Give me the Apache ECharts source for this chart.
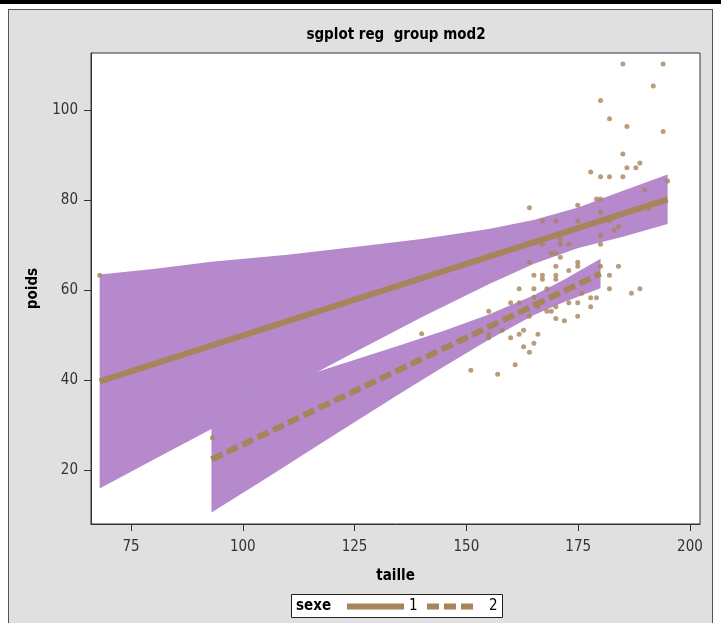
<!DOCTYPE html>
<html><head><meta charset="utf-8">
<script src="https://cdn.jsdelivr.net/npm/echarts@6/dist/echarts.min.js"></script>
<style>
html,body{margin:0;padding:0;background:#fff;width:721px;height:623px;overflow:hidden;}
#bar{position:absolute;left:0;top:0;width:721px;height:4px;background:#000;}
#panel{position:absolute;left:8px;top:9px;width:705px;height:620px;background:#e0e0e0;border:1px solid #555;box-sizing:border-box;}
#chart{position:absolute;left:0;top:0;width:721px;height:623px;}
</style></head><body>
<div id="bar"></div><div id="panel"></div><div id="chart"></div>
<script>
const chartTitle = 'sgplot reg  group mod2';
const xName = 'taille', yName = 'poids', legendTitle = 'sexe';
const groupNames = ['1', '2'];
const xTicks = [75, 100, 125, 150, 175, 200];
const yTicks = [20, 40, 60, 80, 100];

// regression fit lines
const fit1X = [68, 195], fit1Y = [39.7, 80.2];
const fit2X = [93, 180], fit2Y = [22.35, 63.7];

// confidence bands
const band1X     = [68,   80,   93,   110,  125,  140,  155,  165,  175,  185,  195];
const band1Upper = [63.5, 64.7, 66.3, 67.9, 69.6, 71.4, 73.6, 75.6, 78.4, 82.1, 85.7];
const band1Lower = [15.9, 22.3, 29.1, 38.3, 46.2, 54.0, 61.3, 65.8, 69.4, 71.9, 74.7];
const band2X     = [93,    105,  120,  135,  145,  155,  165,  172,  180];
const band2Upper = [34.15, 38.1, 42.9, 47.7, 51.0, 54.6, 58.8, 62.4, 67.0];
const band2Lower = [10.55, 18.0, 27.5, 36.9, 43.0, 49.0, 54.4, 57.4, 60.4];

// observations
const obsX = [185,194,191.8,180,182,185.9,194,185,185.9,187.9,188.8,177.8,180,182,185,195,189.9,179.1,180,164.1,174.9,180,167,170,174.9,182,190.8,184,183,171,171,172.9,167,180,180,
  169,170,171,164.1,174.9,174.9,170,180,184,172.9,165.1,167,167,170,170,182,161.8,165.1,168,182,186.9,188.8,175.8,177.8,179.1,172.9,174.9,177.8,159.9,161.8,165.1,166,170,155,168,169,164.1,174.9,170,171.9,158,162.8,161.8,155,155,159.9,166,165.1,162.8,164.1,160.9,151,157,
  68,93.2,140];
const obsY = [110.3,110.3,105.4,102.2,98.1,96.4,95.3,90.3,87.2,87.2,88.3,86.3,85.2,85.2,85.2,84.3,82.3,80.3,80.3,78.3,78.9,77.3,75.4,75.4,75.4,75.4,78.1,74.1,73.3,71.3,70.2,70.2,70.2,72.2,70.2,
  68.2,68.2,67.3,66.2,66.2,65.3,65.3,65.3,65.3,64.4,63.3,63.3,62.4,63.3,62.4,63.3,60.3,60.3,60.3,60.3,59.3,60.3,59.3,58.3,58.3,57.2,57.2,56.3,57.2,57.2,58.4,56.3,56.3,55.3,55.3,55.3,54.2,54.2,53.7,53.2,51.1,51.1,50.2,50.2,49.4,49.4,50.2,48.2,47.4,46.2,43.4,42.2,41.3,
  63.3,27.2,50.3];

const brown = '#A8845A';
const bandColor = '#B589CB';
const FONT = "'Liberation Sans Narrow','DejaVu Sans Condensed','Liberation Sans',sans-serif";

function bandSeries(xs, up, lo) {
  return {
    type: 'custom', silent: true, z: 1, clip: true,
    data: [[xs[0], up[0]]],
    encode: {x: 0, y: 1},
    renderItem: function (params, api) {
      const pts = [];
      for (let i = 0; i < xs.length; i++) pts.push(api.coord([xs[i], up[i]]));
      for (let i = xs.length - 1; i >= 0; i--) pts.push(api.coord([xs[i], lo[i]]));
      return {type: 'polygon', shape: {points: pts}, style: {fill: bandColor, stroke: null}};
    }
  };
}

const legendCommon = {
  top: 599, itemHeight: 14, itemGap: 0, padding: 0, selectedMode: false,
  lineStyle: {width: 6}, itemStyle: {opacity: 0, borderWidth: 0}
};

const chart = echarts.init(document.getElementById('chart'), null, {renderer: 'canvas'});
chart.setOption({
  backgroundColor: 'transparent',
  animation: false,
  title: {
    text: chartTitle, left: 396, top: 28, textAlign: 'center', padding: 0,
    textStyle: {fontFamily: FONT, fontWeight: 'bold', fontSize: 15, color: '#000'}
  },
  grid: {left: 91, top: 53, width: 609, height: 471, show: true, backgroundColor: '#fff', borderColor: '#333', borderWidth: 1},
  xAxis: {
    type: 'value', min: 66.06, max: 202.24,
    name: xName, nameLocation: 'middle', nameGap: 45,
    nameTextStyle: {fontFamily: FONT, fontWeight: 'bold', fontSize: 15, color: '#000'},
    axisLine: {show: true, onZero: false, lineStyle: {color: '#333', width: 1}},
    axisTick: {show: true, length: 7, customValues: xTicks, lineStyle: {color: '#333'}},
    axisLabel: {customValues: xTicks, margin: 16, fontFamily: FONT, fontSize: 15, color: '#333'},
    splitLine: {show: false}
  },
  yAxis: {
    type: 'value', min: 8, max: 112.74,
    name: yName, nameLocation: 'middle', nameGap: 50, nameRotate: 90,
    nameTextStyle: {fontFamily: FONT, fontWeight: 'bold', fontSize: 15, color: '#000'},
    axisLine: {show: true, onZero: false, lineStyle: {color: '#333', width: 1}},
    axisTick: {show: true, length: 7, customValues: yTicks, lineStyle: {color: '#333'}},
    axisLabel: {customValues: yTicks, margin: 13, fontFamily: FONT, fontSize: 15, color: '#333'},
    splitLine: {show: false}
  },
  legend: [
    Object.assign({}, legendCommon, {data: [groupNames[0]], left: 344, itemWidth: 57,
      textStyle: {fontFamily: FONT, fontSize: 15, color: '#000', padding: [0, 0, 0, 0]}}),
    Object.assign({}, legendCommon, {data: [groupNames[1]], left: 424, itemWidth: 48,
      textStyle: {fontFamily: FONT, fontSize: 15, color: '#000', padding: [0, 0, 0, 9]}})
  ],
  graphic: {elements: [
    {type: 'rect', left: 291, top: 594, z: -1, shape: {width: 211, height: 23}, style: {fill: '#fff', stroke: '#222', lineWidth: 1}},
    {type: 'text', left: 296, top: 599, style: {text: legendTitle, fontFamily: FONT, fontWeight: 'bold', fontSize: 15, fill: '#000'}}
  ]},
  series: [
    bandSeries(band1X, band1Upper, band1Lower),
    bandSeries(band2X, band2Upper, band2Lower),
    {type: 'scatter', name: 'obs', z: 3, symbol: 'circle', symbolSize: 5, itemStyle: {color: brown},
     data: obsX.map((x, i) => [x, obsY[i]]), silent: true},
    {type: 'line', name: groupNames[0], z: 4, symbol: 'none', lineStyle: {color: brown, width: 6, type: 'solid'},
     itemStyle: {color: brown}, data: fit1X.map((x, i) => [x, fit1Y[i]])},
    {type: 'line', name: groupNames[1], z: 4, symbol: 'none', lineStyle: {color: brown, width: 6, type: [12, 5]},
     itemStyle: {color: brown}, data: fit2X.map((x, i) => [x, fit2Y[i]])}
  ]
});
</script>
</body></html>
